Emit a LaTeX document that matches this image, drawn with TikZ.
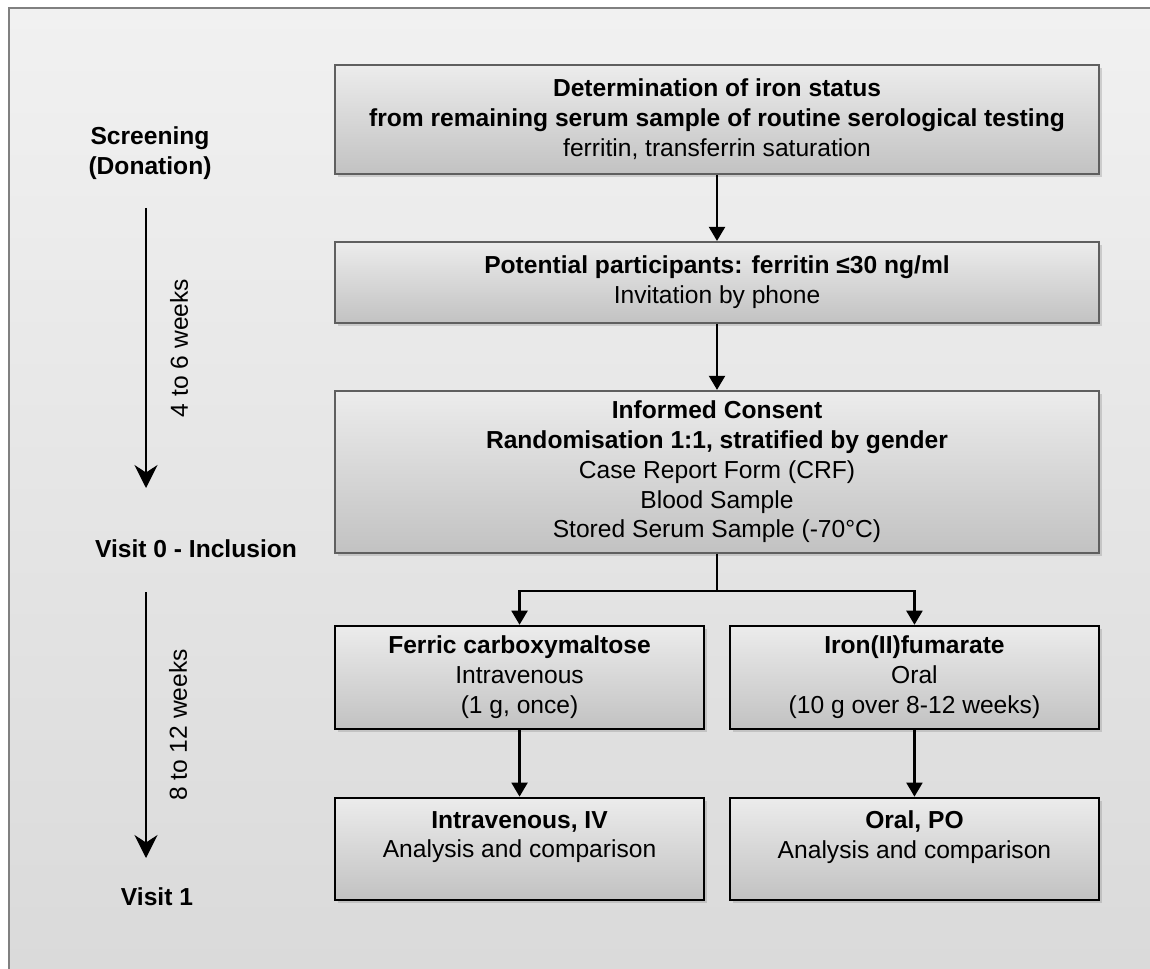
\documentclass[tikz,border=0pt]{standalone}
\usepackage{fontspec}
\setmainfont{Liberation Sans}
\usetikzlibrary{positioning, arrows.meta, shadows}

\definecolor{bgtop}{RGB}{241,241,241}
\definecolor{bgbot}{RGB}{218,218,218}
\definecolor{framegray}{RGB}{128,128,128}
\definecolor{boxtop}{RGB}{236,236,236}
\definecolor{boxbot}{RGB}{194,194,194}
\definecolor{boxline}{RGB}{95,95,95}

\tikzset{
  stage/.style={rectangle, draw=boxline, line width=1.1pt, top color=boxtop, bottom color=boxbot,
    minimum width=15.28cm, align=center,
    drop shadow={opacity=0.3, shadow xshift=0.06cm, shadow yshift=-0.06cm}},
  arm/.style={stage, draw=black, minimum width=7.38cm},
  flow/.style={-{Triangle[length=0.28cm, width=0.32cm]}, line width=1.2pt},
  timeline/.style={-{Stealth[length=0.46cm, width=0.46cm, inset=0.15cm]}, line width=0.8pt},
  phase/.style={font=\fontsize{14}{17}\selectfont\bfseries, align=center}
}

\begin{document}
\begin{tikzpicture}[x=0.02cm, y=-0.02cm, font=\fontsize{14}{17}\selectfont]
    \useasboundingbox (0,0) rectangle (1150,969);
    % backdrop
    \shade[top color=bgtop, bottom color=bgbot] (9,8) rectangle (1150,969);
    \draw[framegray, line width=1.2pt] (9,969) -- (9,8) -- (1150,8);

    \node[stage, minimum height=2.18cm] (det) at (717,119.5)
        {\textbf{Determination of iron status}\\
         \textbf{from remaining serum sample of routine serological testing}\\
         ferritin, transferrin saturation};
    \node[stage, minimum height=1.62cm] (inv) [below = 1.32cm of det]
        {\textbf{Potential participants: ferritin ≤30 ng/ml}\\Invitation by phone};
    \node[stage, minimum height=3.24cm] (cons) [below = 1.32cm of inv]
        {\textbf{Informed Consent}\\
         \textbf{Randomisation 1:1, stratified by gender}\\
         Case Report Form (CRF)\\Blood Sample\\Stored Serum Sample (-70°C)};

    \node[arm, minimum height=2.06cm] (fcm) [below right = 1.42cm and 0cm of cons.south west]
        {\textbf{Ferric carboxymaltose}\\Intravenous\\(1 g, once)};
    \node[arm, minimum height=2.06cm] (fum) [below left = 1.42cm and 0cm of cons.south east]
        {\textbf{Iron(II)fumarate}\\Oral\\(10 g over 8-12 weeks)};

    \node[arm, minimum height=2.04cm, text depth=16pt] (ivr) [below = 1.34cm of fcm]
        {\textbf{Intravenous, IV}\\Analysis and comparison};
    \node[arm, minimum height=2.04cm, text depth=16pt] (por) [below = 1.34cm of fum]
        {\textbf{Oral, PO}\\Analysis and comparison};

    \coordinate[below = 0.74cm of cons.south] (split);
    \path[flow]
        (det) edge (inv)
        (inv) edge (cons)
        (fcm) edge (ivr)
        (fum) edge (por);
    \draw[flow] (cons.south) -- (split) -| (fcm.north);
    \draw[flow] (split) -| (fum.north);

    % time line on the left
    \node[phase] (scr) at (150,153) {Screening\\(Donation)};
    \node[phase] (vis0) at (196,549) {Visit 0 - Inclusion};
    \node[phase] (vis1) at (157,897) {Visit 1};
    \coordinate (a0) at (146,208);
    \coordinate (a1) at (146,488);
    \coordinate (b0) at (146,592);
    \coordinate (b1) at (146,858);
    \draw[timeline] (a0) -- (a1) node[midway, xshift=0.66cm, rotate=90] {4 to 6 weeks};
    \draw[timeline] (b0) -- (b1) node[midway, xshift=0.64cm, rotate=90] {8 to 12 weeks};
\end{tikzpicture}
\end{document}
